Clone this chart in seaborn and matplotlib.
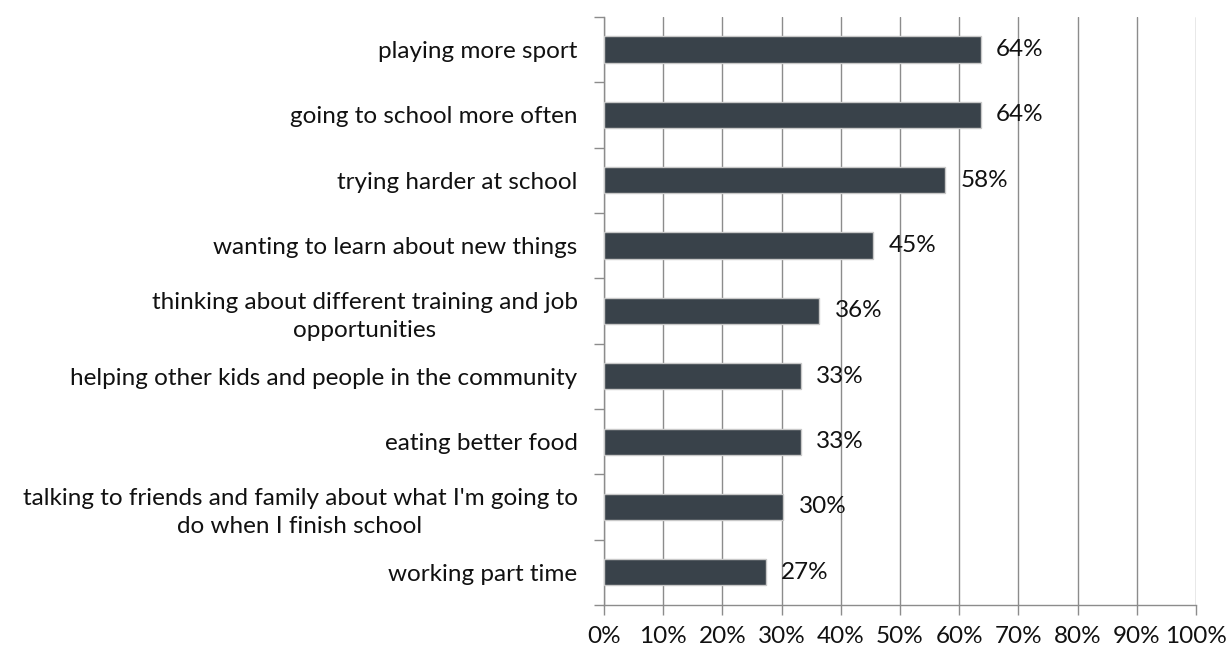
import numpy as np
import pandas as pd
import matplotlib.pyplot as plt
import seaborn as sns
from matplotlib.ticker import FuncFormatter, MultipleLocator, FixedLocator

# survey answers (share of kids)
activities = [
    "playing more sport",
    "going to school more often",
    "trying harder at school",
    "wanting to learn about new things",
    "thinking about different training and job\nopportunities",
    "helping other kids and people in the community",
    "eating better food",
    "talking to friends and family about what I'm going to\ndo when I finish school",
    "working part time",
]
share = [63.6, 63.6, 57.6, 45.5, 36.4, 33.3, 33.3, 30.3, 27.3]
value_labels = ["64%", "64%", "58%", "45%", "36%", "33%", "33%", "30%", "27%"]

df = pd.DataFrame({"activity": activities, "share": share})

sns.set_style("white")
plt.rcParams["font.family"] = ["Lato", "DejaVu Sans"]
FS = 17.5

fig, ax = plt.subplots(figsize=(12.3, 6.48), dpi=100)
fig.subplots_adjust(left=0.491, right=0.9724, top=0.974, bottom=0.0664)

sns.barplot(data=df, x="share", y="activity", orient="h", color="#39424a",
            saturation=1, width=0.4, edgecolor="#c8c8c8", linewidth=1, ax=ax, zorder=3)

ax.set_xlim(0, 100)
ax.set_ylim(len(activities) - 0.5, -0.5)
ax.xaxis.set_major_locator(MultipleLocator(10))
ax.xaxis.set_major_formatter(FuncFormatter(lambda v, p: f"{v:.0f}%"))
ax.grid(axis="x", color="#8c8c8c", linewidth=1, zorder=0)
ax.set_axisbelow(True)

# tick marks between the categories on the y axis
ax.set_yticks(range(len(activities)))
ax.set_yticklabels(activities, fontsize=FS, color="#111111", multialignment="center",
                   linespacing=1.4)
ax.tick_params(axis="y", which="major", left=False, length=0, pad=19)
ax.yaxis.set_minor_locator(FixedLocator(np.arange(-0.5, len(activities), 1)))
ax.tick_params(axis="y", which="minor", left=True, length=7, color="#8c8c8c", width=1)
ax.tick_params(axis="x", bottom=True, length=7, color="#8c8c8c", width=1, pad=8,
               labelsize=FS, labelcolor="#111111")

for s in ["top", "right"]:
    ax.spines[s].set_visible(False)
for s in ["left", "bottom"]:
    ax.spines[s].set_color("#8c8c8c")
    ax.spines[s].set_linewidth(1)

ax.set_xlabel("")
ax.set_ylabel("")

for i, (v, lab) in enumerate(zip(share, value_labels)):
    ax.annotate(lab, (v, i), xytext=(11, 0), textcoords="offset points",
                va="center", ha="left", fontsize=FS, color="#111111", zorder=4)

plt.savefig("out.png", dpi=100)
